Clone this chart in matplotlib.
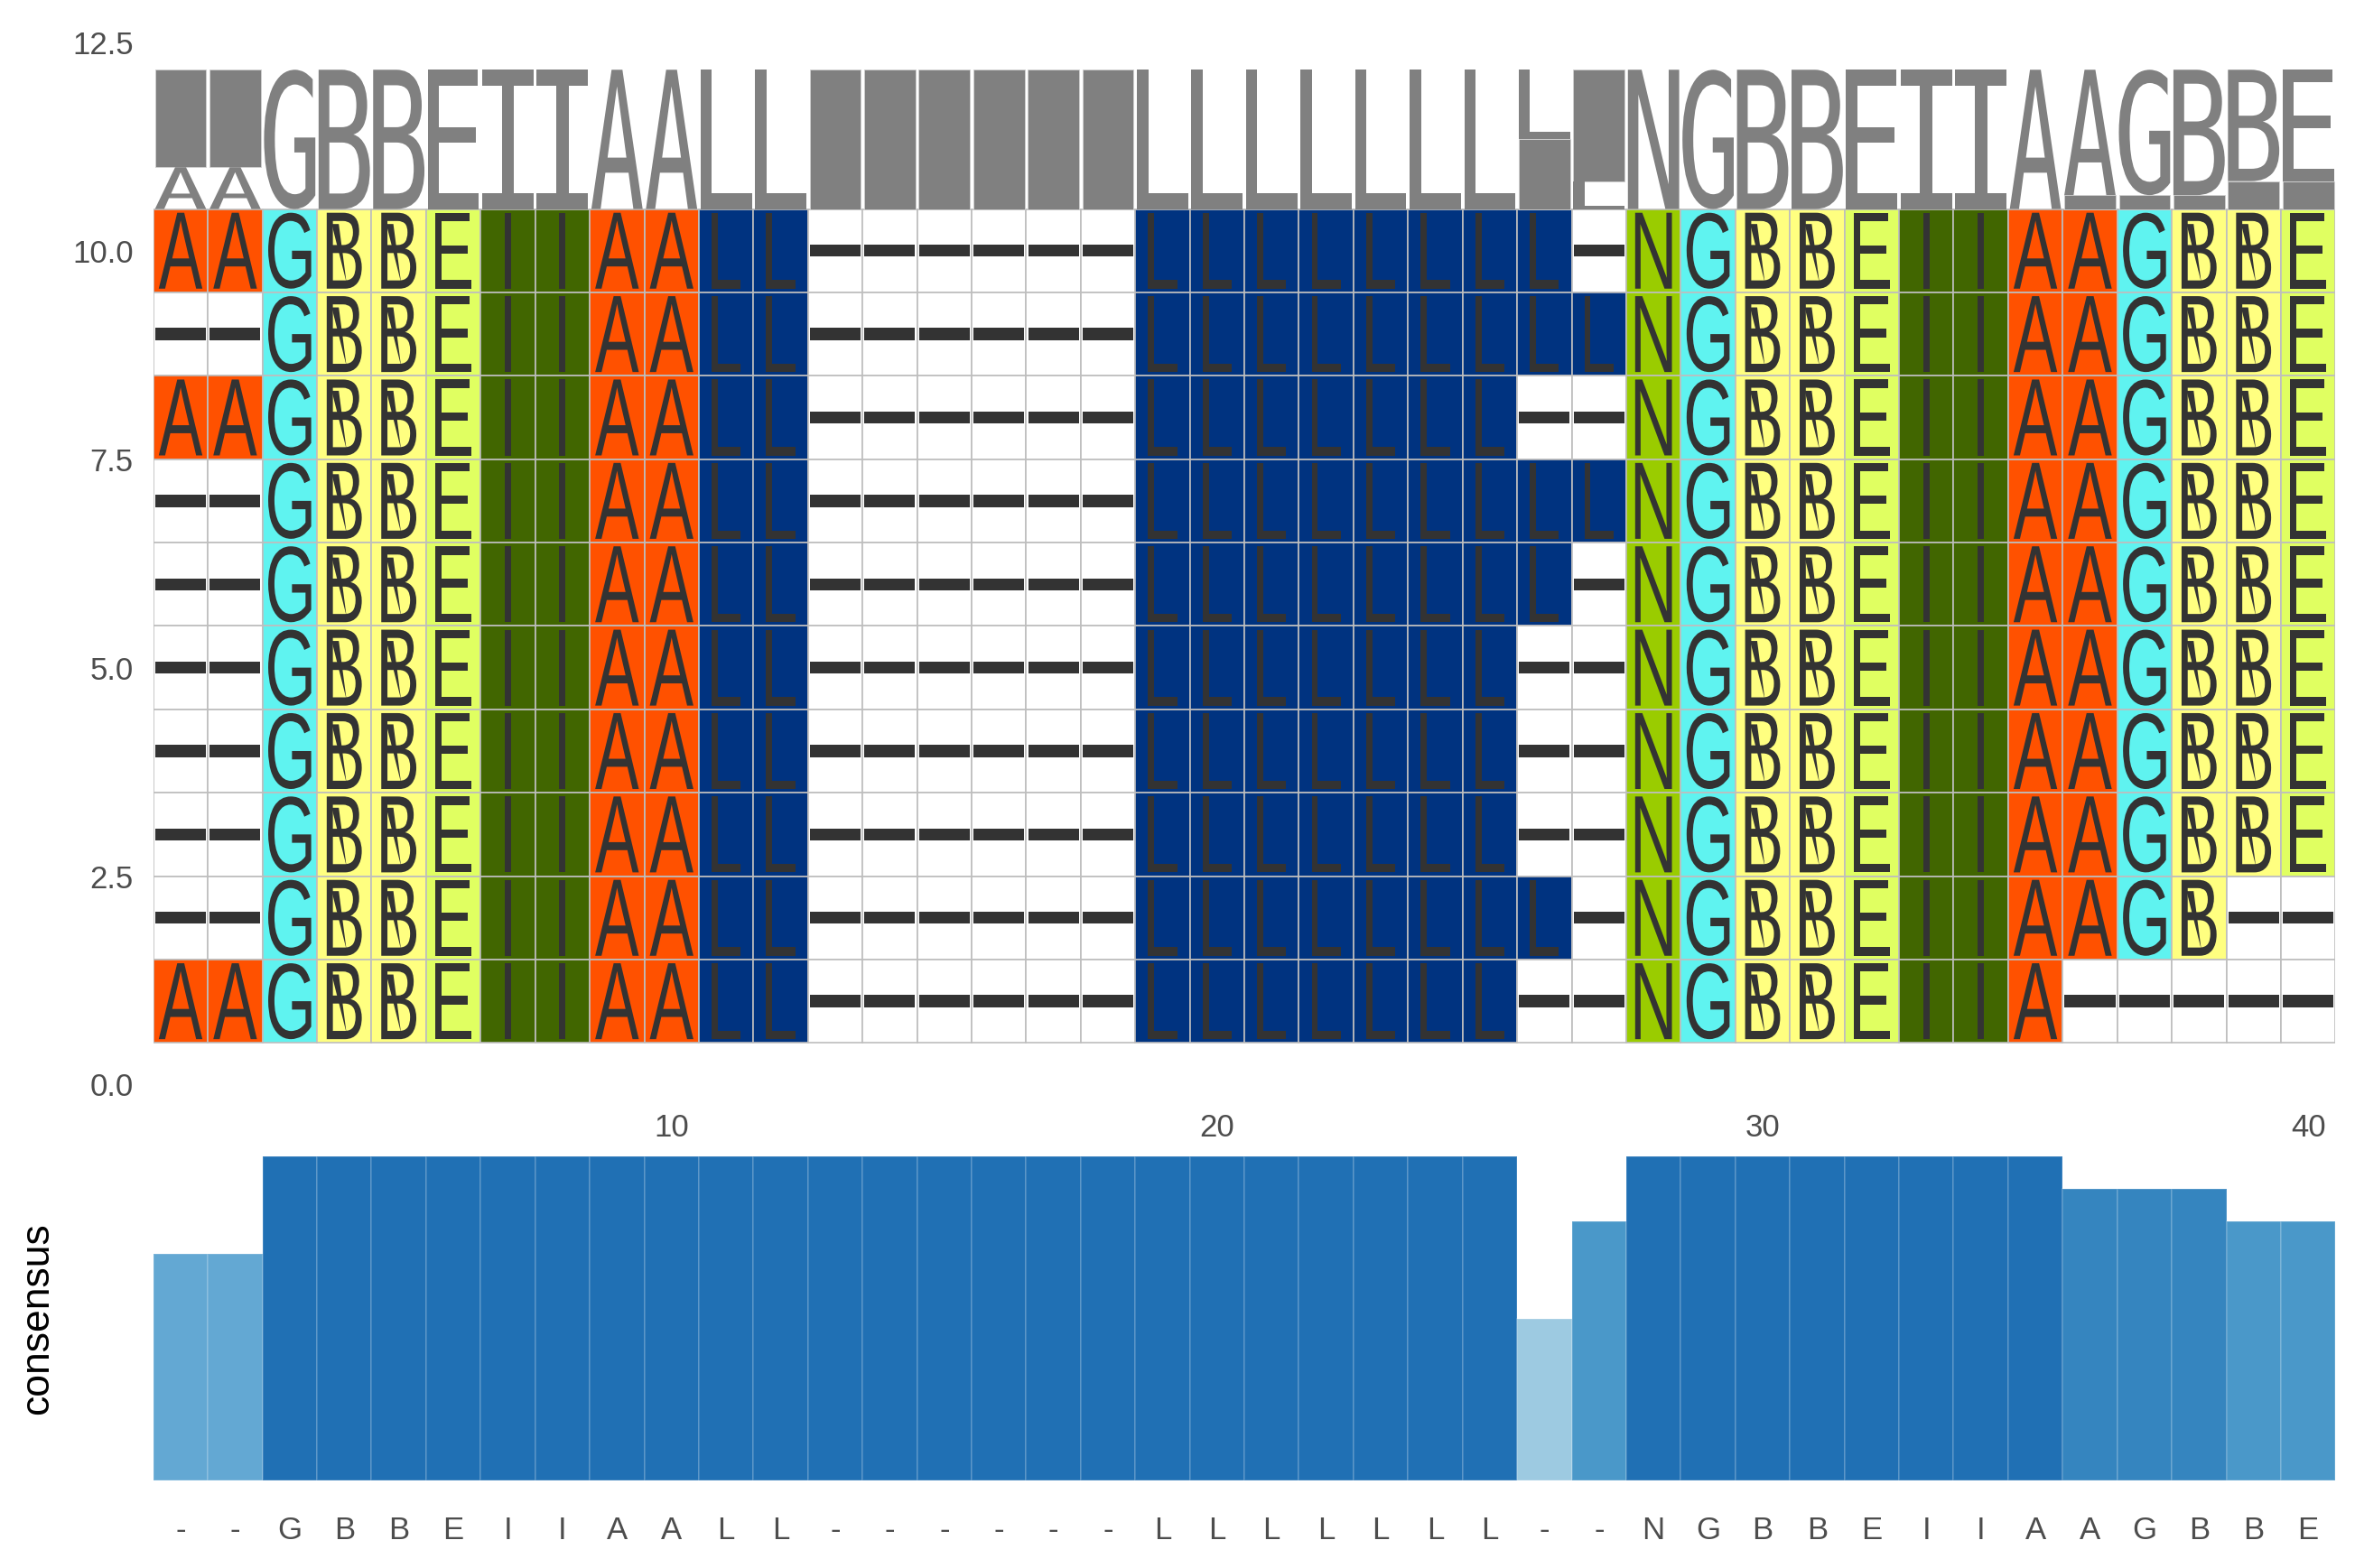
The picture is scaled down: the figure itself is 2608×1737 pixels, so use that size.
import numpy as np
import matplotlib
matplotlib.use("Agg")
import matplotlib.pyplot as plt
from matplotlib.textpath import TextPath
from matplotlib.patches import PathPatch, Rectangle, Polygon
from matplotlib.font_manager import FontProperties
from matplotlib.transforms import Affine2D

plt.rcParams['font.family'] = ['Liberation Sans', 'DejaVu Sans']

# alignment, top row first
seqs = [
    "AAGBBEIIAALL------LLLLLLLL-NGBBEIIAAGBBE",
    "--GBBEIIAALL------LLLLLLLLLNGBBEIIAAGBBE",
    "AAGBBEIIAALL------LLLLLLL--NGBBEIIAAGBBE",
    "--GBBEIIAALL------LLLLLLLLLNGBBEIIAAGBBE",
    "--GBBEIIAALL------LLLLLLLL-NGBBEIIAAGBBE",
    "--GBBEIIAALL------LLLLLLL--NGBBEIIAAGBBE",
    "--GBBEIIAALL------LLLLLLL--NGBBEIIAAGBBE",
    "--GBBEIIAALL------LLLLLLL--NGBBEIIAAGBBE",
    "--GBBEIIAALL------LLLLLLLL-NGBBEIIAAGB--",
    "AAGBBEIIAALL------LLLLLLL--NGBBEIIA-----",
]

cons_letters = list("--GBBEIIAALL------LLLLLLL--NGBBEIIAAGBBE")
cons_values = [0.7, 0.7, 1, 1, 1, 1, 1, 1, 1, 1, 1, 1, 1, 1, 1, 1, 1, 1, 1, 1,
               1, 1, 1, 1, 1, 0.5, 0.8, 1, 1, 1, 1, 1, 1, 1, 1, 0.9, 0.9, 0.9, 0.8, 0.8]

colors = {"A": "#FF5100", "G": "#5FF3F0", "B": "#FFFF80", "E": "#E0FF61",
          "I": "#416600", "L": "#003380", "N": "#9ACC00", "-": "#FFFFFF"}

ncol = len(seqs[0])
nrow = len(seqs)

cell_font = FontProperties(family='Liberation Sans')
logo_font = FontProperties(family='DejaVu Sans Mono')

a_ext = TextPath((0, 0), "A", size=1, prop=cell_font).get_extents()
cell_sx = 0.8 / a_ext.width


def put_glyph(ax, ch, xc, y0, h, fp, color, w=None, sx=None, z=3):
    tp = TextPath((0, 0), ch, size=1, prop=fp)
    ext = tp.get_extents()
    if w is not None:
        sx = w / ext.width
    sy = h / ext.height
    tr = Affine2D().translate(-ext.x0 - ext.width / 2, -ext.y0).scale(sx, sy).translate(xc, y0)
    path = tr.transform_path(tp)
    ax.add_patch(PathPatch(path, facecolor=color, lw=0, zorder=z))


fig = plt.figure(figsize=(13.04, 8.685), dpi=200)
ax = fig.add_axes([0.0651, 0.295, 0.9266, 0.6887])
ax.set_xlim(0.5, ncol + 0.5)
ax.set_ylim(-0.25, 12.7)

for i, s in enumerate(seqs):
    y = nrow - i
    for j, ch in enumerate(s):
        x = j + 1
        ax.add_patch(Rectangle((x - 0.5, y - 0.5), 1, 1, facecolor=colors[ch],
                               edgecolor="#BEBEBE", lw=0.6, zorder=1))
        if ch == "-":
            ax.add_patch(Rectangle((x - 0.465, y - 0.072), 0.93, 0.144,
                                   facecolor="#333333", lw=0, zorder=3))
        else:
            put_glyph(ax, ch, x, y - 0.455, 0.91, cell_font, "#333333", sx=cell_sx)
            if ch == "B":
                ax.add_patch(Polygon([(x - 0.23, y + 0.32), (x - 0.1, y + 0.32),
                                      (x + 0.04, y - 0.38)], closed=True,
                                     facecolor="#333333", lw=0, zorder=3))

# sequence logo from column frequencies
logo_base = nrow + 0.5
logo_h = 1.67
for j in range(ncol):
    col = [s[j] for s in seqs]
    chars = sorted(set(col), key=lambda c: (col.count(c), c != "-"))
    y0 = logo_base
    for ch in chars:
        h = logo_h * col.count(ch) / nrow
        if ch == "-":
            ax.add_patch(Rectangle((j + 1 - 0.47, y0), 0.94, h, facecolor="#808080",
                                   edgecolor="#D0D0D0", lw=0.3, zorder=2))
        else:
            put_glyph(ax, ch, j + 1, y0, h, logo_font, "#808080", w=0.94)
        y0 += h

for sp in ax.spines.values():
    sp.set_visible(False)
ax.set_xticks([10, 20, 30, 40])
ax.set_yticks([0, 2.5, 5, 7.5, 10, 12.5])
ax.set_yticklabels(["0.0", "2.5", "5.0", "7.5", "10.0", "12.5"])
ax.tick_params(length=0, labelsize=12.5, labelcolor="#4D4D4D")
ax.tick_params(axis="y", pad=8)
ax.tick_params(axis="x", pad=3)

# consensus bars
ax2 = fig.add_axes([0.0651, 0.0556, 0.9266, 0.2069])
cmap = plt.get_cmap("Blues")
xs = np.arange(1, ncol + 1)
ax2.bar(xs, cons_values, width=1, color=[cmap(0.75 * v) for v in cons_values],
        edgecolor=(1, 1, 1, 0.18), lw=0.6)
ax2.set_xlim(0.5, ncol + 0.5)
ax2.set_ylim(0, 1)
for sp in ax2.spines.values():
    sp.set_visible(False)
ax2.set_xticks(xs)
ax2.set_xticklabels(cons_letters)
ax2.set_yticks([])
ax2.tick_params(length=0, labelsize=12.5, labelcolor="#4D4D4D")
ax2.tick_params(axis="x", pad=14)
ax2.set_ylabel("consensus", fontsize=16, color="black")
ax2.yaxis.set_label_coords(-0.0445, 0.5)

fig.savefig("out.png", dpi=200)
